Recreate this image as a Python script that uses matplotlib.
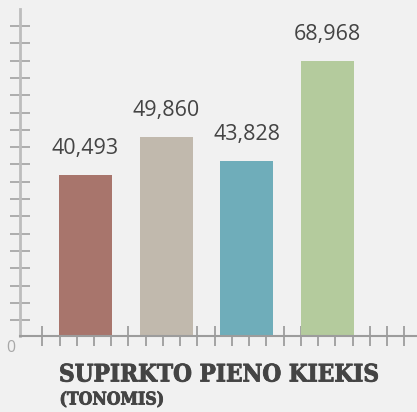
import numpy as np
import matplotlib
matplotlib.use("Agg")
import matplotlib.pyplot as plt
import matplotlib.patheffects as pe
from matplotlib import font_manager

# data
values = [40493, 49860, 43828, 68968]
labels = ["40,493", "49,860", "43,828", "68,968"]
colors = ["#a8756c", "#c1b9ad", "#6fadba", "#b4cb9d"]
title = "SUPIRKTO PIENO KIEKIS"
subtitle = "(TONOMIS)"

bg = "#f1f1f1"
W, H = 417, 412
fig = plt.figure(figsize=(W / 100, H / 100), dpi=100, facecolor=bg)

# axes box in pixels: left 20, top 9, bottom 336, right edge of figure
ax = fig.add_axes([20 / W, (H - 336) / H, (W - 20) / W, 327 / H])
ax.set_facecolor(bg)

x = np.arange(len(values))
step = 80.67  # px between bar centres
ax.bar(x, values, width=53 / step, color=colors, zorder=2)
ax.set_xlim(-65.5 / step, (W - 85.5) / step)
ymax = 327 * 250.8
ax.set_ylim(0, ymax)

for xi, v, lab in zip(x, values, labels):
    ax.annotate(lab, (xi, v), xytext=(0, 21), textcoords="offset pixels",
                ha="center", va="baseline", fontsize=15.5,
                family="Open Sans", color="#444444")

# decorative ticks that cross the axis lines
ax.set_yticks(np.arange(1, 19) * ymax * 17.3 / 327 - ymax * 1.4 / 327)
ax.set_xticks(-43.2 / step + np.arange(22) * 17.24 / step)
ax.tick_params(axis="y", direction="inout", length=14, width=1.1,
               color="#9a9a9a", labelleft=False)
ax.tick_params(axis="x", direction="inout", length=14, width=1.1,
               color="#8f8f8f", labelbottom=False)
for s in ["top", "right"]:
    ax.spines[s].set_visible(False)
ax.spines["left"].set_color("#bdbdbd")
ax.spines["left"].set_linewidth(2)
ax.spines["bottom"].set_color("#9c9c9c")
ax.spines["bottom"].set_linewidth(1.5)

fig.text(6 / W, (H - 352.5) / H, "0", fontsize=11.5, color="#a8a8a8",
         family="Open Sans", va="baseline", ha="left")

# title font: condensed bold serif if there is one
cond = [f.fname for f in font_manager.fontManager.ttflist
        if "DejaVuSerifCondensed-Bold." in f.fname]
if cond:
    tprop = font_manager.FontProperties(fname=cond[0])
else:
    tprop = font_manager.FontProperties(family="Liberation Serif", weight="bold")

heavy = [pe.withStroke(linewidth=0.6, foreground="#444444")]
t1 = fig.text(59 / W, (H - 381.5) / H, title, fontproperties=tprop,
              color="#444444", va="baseline", ha="left", path_effects=heavy)
t2 = fig.text(59.5 / W, (H - 404.5) / H, subtitle, fontproperties=tprop,
              color="#444444", va="baseline", ha="left", path_effects=heavy)
t1.set_fontsize(20)
t2.set_fontsize(14)

# fit the title widths to the reference
r = fig.canvas.get_renderer()
for t, target in [(t1, 319), (t2, 105)]:
    w = t.get_window_extent(r).width
    t.set_fontsize(t.get_fontsize() * target / w)

fig.savefig("out.png", dpi=100, facecolor=bg)
